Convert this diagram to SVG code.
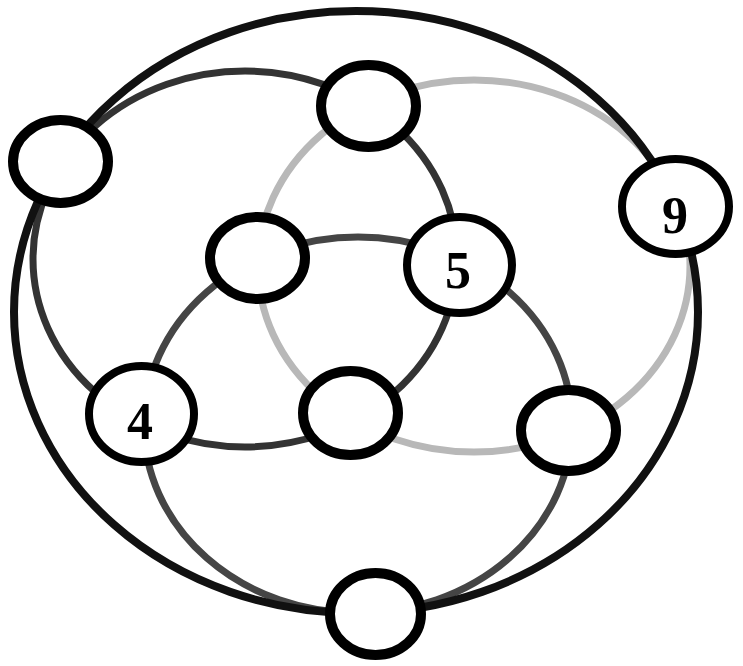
<svg xmlns="http://www.w3.org/2000/svg" width="743" height="666" viewBox="0 0 743 666">
<style>
.ring{fill:none;stroke-width:7}
.r1{stroke:#333333}
.r2{stroke:#b8b8b8}
.r3{stroke:#454545}
.outer{fill:none;stroke:#111111;stroke-width:8}
.node{fill:#ffffff;stroke:#000000;stroke-width:10}
.lnode{fill:#ffffff;stroke:#000000;stroke-width:8}
.lbl{font-family:"Liberation Serif","Times New Roman",serif;font-weight:bold;font-size:52px;fill:#000000;text-anchor:middle}
</style>
<rect width="743" height="666" fill="#ffffff"/>
<g id="connectors">
<ellipse class="ring r2" cx="474" cy="266" rx="216" ry="186"/>
<ellipse class="ring r1" cx="245" cy="259" rx="212" ry="188"/>
<ellipse class="ring r3" cx="358" cy="425" rx="214" ry="188"/>
<ellipse class="outer" cx="356" cy="312" rx="342" ry="301"/>
</g>
<g id="node-top-left"><ellipse class="node" cx="60.5" cy="161.5" rx="47.5" ry="41.5"/></g>
<g id="node-top"><ellipse class="node" cx="368.5" cy="106" rx="47.5" ry="41"/></g>
<g id="node-9"><ellipse class="lnode" cx="675.5" cy="206.5" rx="53.5" ry="47.5"/><text class="lbl" x="675" y="233">9</text></g>
<g id="node-left-mid"><ellipse class="node" cx="257.5" cy="258" rx="47.5" ry="41"/></g>
<g id="node-5"><ellipse class="lnode" cx="459.5" cy="265" rx="52.5" ry="48"/><text class="lbl" x="458" y="288">5</text></g>
<g id="node-4"><ellipse class="lnode" cx="141.5" cy="414" rx="52.5" ry="48"/><text class="lbl" x="140" y="439">4</text></g>
<g id="node-center-low"><ellipse class="node" cx="350.5" cy="413" rx="47.5" ry="42"/></g>
<g id="node-right-low"><ellipse class="node" cx="568.5" cy="430.5" rx="47.5" ry="40.5"/></g>
<g id="node-bottom"><ellipse class="node" cx="375.5" cy="614" rx="45.5" ry="41"/></g>
</svg>
